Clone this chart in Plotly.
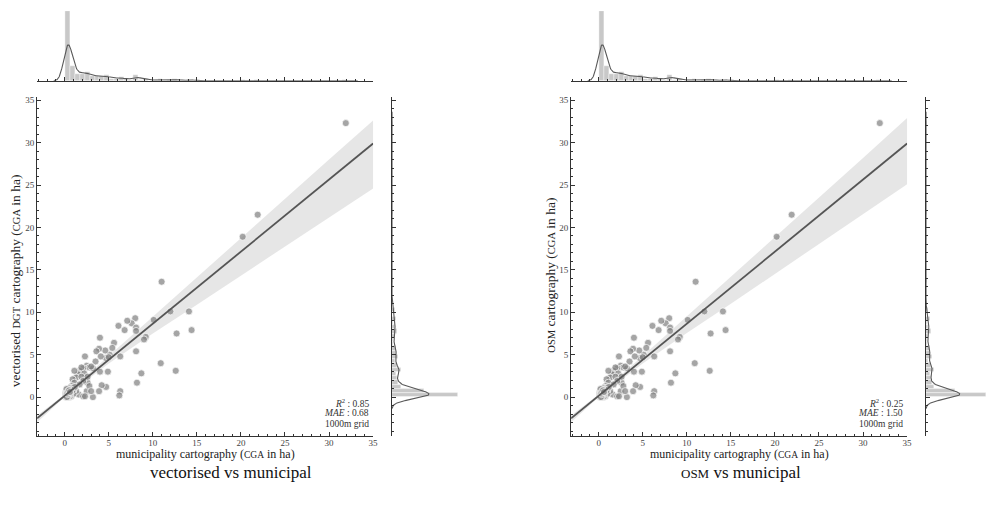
import numpy as np
import plotly.graph_objects as go

# ---------------- data ----------------
# scattered municipalities (x: municipal CGA, y: vectorised DGT CGA)
x_spread = [31.9, 20.2, 21.9, 11.0, 12.0, 14.1, 14.4, 12.7, 12.6, 10.9, 10.1, 8.0, 7.6, 7.1, 8.1, 8.1,
            6.8, 6.1, 9.2, 9.0, 8.1, 8.7, 8.2, 6.3, 6.3, 6.2, 5.6, 5.4, 5.1, 4.6, 4.7, 4.9, 4.7, 4.0,
            3.9, 3.6, 4.1, 3.5, 4.0, 4.2, 3.9, 3.2, 2.3, 2.5, 2.8, 3.2, 2.1, 1.7, 2.2, 1.5, 1.3, 1.9,
            0.9, 1.1, 0.8, 0.6, 0.4, 0.2, 0.1, 0.6, 1.6, 2.1, 2.5, 2.6, 2.8, 2.1, 1.7, 3.0, 2.3, 1.3,
            0.9, 1.9, 1.1, 0.7, 0.8, 1.0, 0.75, 1.0, 0.9, 1.15, 0.7, 3.0, 2.6, 5.0]
y_spread = [32.3, 18.9, 21.5, 13.6, 10.1, 10.1, 7.9, 7.5, 3.1, 4.0, 9.1, 9.3, 8.7, 9.0, 8.2, 7.8,
            7.9, 8.4, 7.1, 6.8, 5.4, 2.8, 1.7, 4.8, 0.7, 0.2, 6.4, 5.8, 5.0, 5.5, 4.6, 3.0, 1.2, 7.0,
            5.7, 5.4, 4.8, 4.2, 3.0, 1.4, 0.7, 0.0, 4.8, 3.7, 3.5, 3.4, 3.4, 3.1, 2.8, 2.7, 2.3, 2.4,
            2.1, 1.7, 1.3, 1.1, 0.7, 0.4, 0.1, 0.0, 0.3, 0.1, 0.7, 1.7, 1.3, 1.9, 1.5, 0.7, 0.1, 0.7,
            1.1, 3.5, 3.1, 0.3, 0.6, 0.9, 0.1, 0.4, 0.8, 1.2, 0.9, 3.6, 2.4, 4.7]
# grid cells with (almost) no CGA in either source
x_zero = [0.1, 0.1, 0.1, 0.12, 0.15, 0.15, 0.2, 0.2, 0.2, 0.22, 0.25, 0.25, 0.3, 0.3, 0.3, 0.32,
          0.35, 0.35, 0.4, 0.4, 0.4, 0.42, 0.45, 0.45, 0.5, 0.5, 0.5, 0.52, 0.55, 0.55, 0.6, 0.6,
          0.1, 0.2, 0.3, 0.4, 0.5, 0.15, 0.25, 0.35,
          0.1, 0.15, 0.2, 0.25, 0.3, 0.35, 0.4, 0.45, 0.5, 0.55, 0.2, 0.3, 0.4, 0.5, 0.6]
y_zero = [0.0, 0.1, 0.2, 0.05, 0.0, 0.3, 0.1, 0.2, 0.4, 0.0, 0.15, 0.35, 0.0, 0.2, 0.45, 0.1,
          0.05, 0.3, 0.0, 0.25, 0.4, 0.1, 0.2, 0.45, 0.0, 0.15, 0.3, 0.05, 0.2, 0.4, 0.1, 0.35,
          0.25, 0.05, 0.3, 0.15, 0.45, 0.2, 0.0, 0.35,
          0.55, 0.6, 0.7, 0.8, 0.65, 0.9, 0.75, 0.55, 0.85, 0.6, 0.95, 0.5, 0.7, 0.8, 0.6]

x_muni = x_spread + x_zero
y_vect = y_spread + y_zero
y_osm = list(y_vect)      # the OSM panel shows the same point cloud

# regression fit and bootstrap CI
fit_vect = (0.85, 0.15)   # slope, intercept
fit_osm = (0.85, 0.15)
ci_x = [-3.13, 0, 5, 10, 15, 20, 25, 30, 35]
ci_up_vect = [-2.16, 0.30, 4.85, 9.5, 14.15, 18.8, 23.4, 28.0, 32.6]
ci_lo_vect = [-2.96, 0.0, 3.95, 7.5, 10.9, 14.35, 17.8, 21.2, 24.6]
ci_up_osm = [-2.16, 0.30, 4.85, 9.5, 14.2, 18.9, 23.55, 28.2, 32.9]
ci_lo_osm = [-2.96, 0.0, 3.95, 7.55, 11.0, 14.5, 18.0, 21.55, 25.1]

stats_vect = ["0.85", "0.68"]
stats_osm = ["0.25", "1.50"]
panel_titles = ["vectorised vs municipal", "<span style='font-size:13px'>OSM</span> vs municipal"]
y_titles = ["vectorised <span style='font-size:10.5px'>DGT</span> cartography (<span style='font-size:10.5px'>CGA</span> in ha)",
            "<span style='font-size:10.5px'>OSM</span> cartography (<span style='font-size:10.5px'>CGA</span> in ha)"]
x_title = "municipality cartography (<span style='font-size:9.5px'>CGA</span> in ha)"

# ---------------- styling ----------------
FONT = "Liberation Serif"
W, H = 992, 505
XR = [-3.13, 35]
YR = [-4.6, 35.4]
XBIN = dict(start=0.1, size=0.55)
YBIN = dict(start=0.0, size=0.5)
BW = 0.45

fig = go.Figure()


def kde(vals, bw, binsize):
    v = np.asarray(vals, float)
    g = np.linspace(v.min() - 3 * bw, v.max() + 3 * bw, 800)
    d = np.exp(-0.5 * ((g[:, None] - v[None, :]) / bw) ** 2).sum(1) / (bw * np.sqrt(2 * np.pi))
    return g, d * binsize


def hist_max(vals, b):
    v = np.asarray(vals, float)
    edges = np.arange(b["start"], v.max() + b["size"] * 2, b["size"])
    return np.histogram(v, edges)[0].max()


panels = [
    dict(y=y_vect, fit=fit_vect, up=ci_up_vect, lo=ci_lo_vect, stats=stats_vect,
         xd=[37.3, 375.0], rd=[394.0, 460.0], title=panel_titles[0], ytitle=y_titles[0],
         tx=232, ytx=16, yty=280),
    dict(y=y_osm, fit=fit_osm, up=ci_up_osm, lo=ci_lo_osm, stats=stats_osm,
         xd=[574.0, 911.7], rd=[930.7, 991.0], title=panel_titles[1], ytitle=y_titles[1],
         tx=745, ytx=553, yty=275),
]

main_yd = [1 - 436 / H, 1 - 96 / H]
top_yd = [1 - 80 / H, 1 - 10 / H]

axis_common = dict(showline=True, linecolor="#333", linewidth=1, ticks="inside", ticklen=4,
                   tickwidth=0.8, tickcolor="#333", showgrid=False, zeroline=False,
                   tickfont=dict(family=FONT, size=9, color="#444"),
                   minor=dict(ticks="inside", ticklen=2, tickwidth=0.6, tickcolor="#333", dtick=1, showgrid=False))

for i, p in enumerate(panels):
    k = 3 * i
    ax_m, ax_t, ax_r = k + 1, k + 2, k + 3
    nm = lambda a: "" if a == 1 else str(a)
    xs, ys = "x" + nm(ax_m), "y" + nm(ax_m)

    # CI band
    fig.add_trace(go.Scatter(x=ci_x, y=p["lo"], mode="lines", line=dict(width=0), hoverinfo="skip",
                             showlegend=False, xaxis=xs, yaxis=ys))
    fig.add_trace(go.Scatter(x=ci_x, y=p["up"], mode="lines", line=dict(width=0), fill="tonexty",
                             fillcolor="rgba(205,205,205,0.5)", hoverinfo="skip", showlegend=False,
                             xaxis=xs, yaxis=ys))
    # points
    fig.add_trace(go.Scatter(x=x_muni, y=p["y"], mode="markers", showlegend=False,
                             marker=dict(size=7, color="rgba(130,130,130,0.72)",
                                         line=dict(color="white", width=0.7)),
                             xaxis=xs, yaxis=ys))
    # regression line
    lx = np.array(XR)
    fig.add_trace(go.Scatter(x=lx, y=p["fit"][0] * lx + p["fit"][1], mode="lines", showlegend=False,
                             line=dict(color="#555555", width=1.8), xaxis=xs, yaxis=ys))

    # top marginal
    xt, yt = "x" + nm(ax_t), "y" + nm(ax_t)
    fig.add_trace(go.Histogram(x=x_muni, xbins=dict(XBIN), marker=dict(color="#c8c8c8", line=dict(color="white", width=0.4)),
                               showlegend=False, xaxis=xt, yaxis=yt))
    g, c = kde(x_muni, BW, XBIN["size"])
    fig.add_trace(go.Scatter(x=g, y=c, mode="lines", line=dict(color="#595959", width=1.1),
                             showlegend=False, xaxis=xt, yaxis=yt))
    mx_top = hist_max(x_muni, XBIN)

    # right marginal
    xr, yr = "x" + nm(ax_r), "y" + nm(ax_r)
    fig.add_trace(go.Histogram(y=p["y"], ybins=dict(YBIN), marker=dict(color="#c8c8c8", line=dict(color="white", width=0.4)),
                               showlegend=False, xaxis=xr, yaxis=yr))
    g, c = kde(p["y"], BW, YBIN["size"])
    fig.add_trace(go.Scatter(x=c, y=g, mode="lines", line=dict(color="#595959", width=1.1),
                             showlegend=False, xaxis=xr, yaxis=yr))
    mx_r = hist_max(p["y"], YBIN)

    xd = [p["xd"][0] / W, p["xd"][1] / W]
    rd = [p["rd"][0] / W, p["rd"][1] / W]

    lay = {}
    lay["xaxis" + nm(ax_m)] = dict(axis_common, domain=xd, range=XR, dtick=5, tick0=0, anchor=ys,
                                   ticklabelstandoff=-2)
    lay["yaxis" + nm(ax_m)] = dict(axis_common, domain=main_yd, range=YR, dtick=5, tick0=0, anchor=xs)
    lay["xaxis" + nm(ax_t)] = dict(axis_common, domain=xd, range=XR, dtick=5, tick0=0, anchor=yt,
                                   showticklabels=False)
    lay["yaxis" + nm(ax_t)] = dict(domain=top_yd, range=[0, mx_top * 1.0], visible=False, anchor=xt)
    lay["xaxis" + nm(ax_r)] = dict(domain=rd, range=[0, mx_r * 1.0], visible=False, anchor=yr)
    lay["yaxis" + nm(ax_r)] = dict(axis_common, domain=main_yd, range=YR, dtick=5, tick0=0, anchor=xr,
                                   showticklabels=False)
    fig.update_layout(**lay)

    # axis titles
    fig.add_annotation(x=(p["xd"][0] + p["xd"][1]) / 2 / W, y=1 - 454 / H, xref="paper", yref="paper",
                       text=x_title, showarrow=False, xanchor="center", yanchor="middle",
                       font=dict(family=FONT, size=12, color="#222"))
    fig.add_annotation(x=p["ytx"] / W, y=1 - p["yty"] / H, xref="paper", yref="paper",
                       text=p["ytitle"], textangle=-90, showarrow=False, xanchor="center", yanchor="middle",
                       font=dict(family=FONT, size=13.5, color="#222"))

    # stats box
    xr_p = (p["xd"][1] - 2) / W
    for j, txt in enumerate(["<i>R</i><sup>2</sup> : " + p["stats"][0],
                             "<i>MAE</i> : " + p["stats"][1], "1000m grid"]):
        fig.add_annotation(x=xr_p, y=1 - (403 + 10.3 * j) / H, xref="paper", yref="paper",
                           text=txt, showarrow=False, xanchor="right", yanchor="middle",
                           font=dict(family=FONT, size=9.5, color="#333"))
    # panel title
    fig.add_annotation(x=p["tx"] / W, y=1 - 472 / H, xref="paper", yref="paper", text=p["title"],
                       showarrow=False, xanchor="center", yanchor="middle",
                       font=dict(family=FONT, size=17, color="#111"))

fig.update_layout(width=W, height=H, margin=dict(l=0, r=0, t=0, b=0), paper_bgcolor="white",
                  plot_bgcolor="rgba(0,0,0,0)", bargap=0, showlegend=False,
                  font=dict(family=FONT))
fig.write_html("out.html", config={"displayModeBar": False},
               post_script="document.body.style.margin='0px';document.body.style.overflow='hidden';")
